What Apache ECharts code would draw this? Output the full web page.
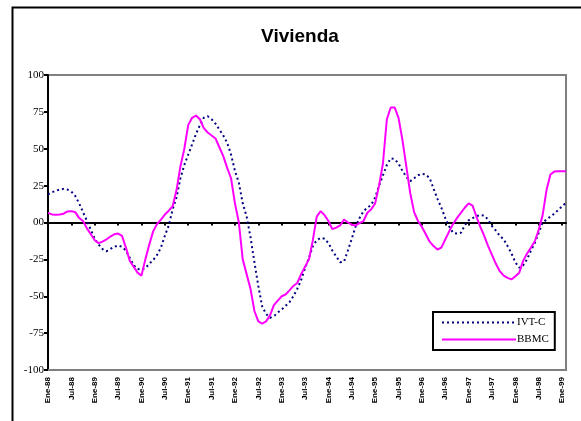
<!DOCTYPE html>
<html><head><meta charset="utf-8">
<script src="https://cdn.jsdelivr.net/npm/echarts@6/dist/echarts.min.js"></script>
<style>html,body{margin:0;padding:0;background:#fff}#c{width:581px;height:421px}</style>
</head><body><div id="c"></div>
<script>
// Monthly, from Ene-88 to Feb-99
const monthNames = ['Ene','Feb','Mar','Abr','May','Jun','Jul','Ago','Sep','Oct','Nov','Dic'];
const startYear = 1988;
const nMonths = 134;
const yTicks = [-100,-75,-50,-25,0,25,50,75,100];
const yTickLabels = ['-100','-75','-50','-25','00','25','50','75','100'];
const seriesNames = ['IVT-C','BBMC'];
const ivtC = [19,20.5,21.5,22.3,22.8,22.3,21,18,13,7,1,-5,-11,-15,-18,-19.5,-18,-16.5,-15.6,-16.5,
 -19,-24,-29,-31.5,-32,-31,-28,-25.5,-22,-17,-9,-2,8.8,17,30,39,46,53,60,66,
 71,72,70,67,63,59,54,46,35,27,13,4,-10,-27,-43,-57,-62,-64.6,-63.5,-61,
 -59,-56.5,-54,-50,-45,-39,-31,-24,-16,-12,-10.4,-11,-14,-19,-23,-27,-26.5,-19,-11,-2.5,
 3,7.7,10,12,17,25,32,39,43.5,43,40,35,31,28,30,32,33,32.5,30,23,
 16,10,3,-2.5,-7,-7.5,-7,-2,1.5,3,4.3,5,4.7,2,-2.5,-5.5,-9,-11.5,-16,-21,
 -27,-30.7,-29,-25,-19,-13.8,-7,0,2,4,6,8.5,11,13.4];
const bbmc = [6.5,5.5,5.2,5.4,6,7.5,7.7,7,3,1,-4,-8,-12,-14,-13,-11.5,-9.5,-8,-7.5,-9,
 -17,-26,-30,-34,-36,-25,-15,-6,-1,2,5.4,8,11,22,38,50,66,71,72.5,70,
 64,61,59,57,51,45,37,30,13,0,-25,-35,-45,-60,-67,-68.5,-67,-63,-56,-53,
 -50,-48.8,-46,-43,-41,-35,-30,-25,-12,4,7.7,5,1,-4.5,-3.5,-2,2,0,-1.5,-2,
 -0.5,1,6.6,9,13,25,40,70,78,78,71,56,38,20,7,1,-3,-8,-13,-16,
 -18.3,-17,-11.5,-6,-1,3,6.5,10,13,11.5,4,-3,-9,-16,-22,-28,-33,-36,-37.5,-38.6,
 -36.5,-34,-26,-21,-17,-12.7,-5,5,22,32.5,34.5,34.8,34.8,34.8];

const categories = [];
for (let i = 0; i < nMonths; i++) {
  const y = startYear + Math.floor(i / 12);
  categories.push(monthNames[i % 12] + '-' + String(y).slice(2));
}

const chart = echarts.init(document.getElementById('c'), null, {renderer:'canvas'});
chart.setOption({
  animation: false,
  backgroundColor: '#fff',
  title: {
    text: 'Vivienda', left: 295, top: 22, textAlign: 'center',
    textStyle: {fontFamily: 'Liberation Sans, Arial', fontSize: 19, fontWeight: 'bold', color: '#000'}
  },
  graphic: [{
    type: 'rect', left: 10, top: 5, z: -10,
    shape: {width: 620, height: 460},
    style: {fill: 'none', stroke: '#000', lineWidth: 2}
  }],
  legend: {
    orient: 'vertical', left: 433, top: 312,
    itemWidth: 74, itemHeight: 10, itemGap: 6,
    padding: [5, 6, 5, 8],
    backgroundColor: '#fff', borderColor: '#000', borderWidth: 2, borderRadius: 0,
    itemStyle: {opacity: 0},
    textStyle: {fontFamily: 'Liberation Serif', fontSize: 11, color: '#000', padding: [0,0,0,-4]},
    data: seriesNames
  },
  grid: {left: 48, right: 15, top: 75, bottom: 51, show: true, borderColor: '#808080', borderWidth: 2, containLabel: false},
  xAxis: [{
    type: 'category', data: categories, boundaryGap: false, position: 'bottom',
    axisLine: {onZero: false, lineStyle: {color: '#808080', width: 2}},
    axisTick: {show: false},
    axisLabel: {
      interval: function(i){ return i % 6 === 0; },
      rotate: 90, margin: 7,
      fontFamily: 'Liberation Sans, Arial', fontSize: 8, fontWeight: 'bold', color: '#000'
    },
    splitLine: {show: false}
  }, {
    type: 'category', data: categories, boundaryGap: false, position: 'bottom',
    axisLine: {onZero: true, lineStyle: {color: '#000', width: 2}},
    axisTick: {show: true, interval: function(i){ return i % 6 === 0 && i > 0; }, length: 3, lineStyle: {color: '#000', width: 2}},
    axisLabel: {show: false},
    splitLine: {show: false}
  }],
  yAxis: {
    type: 'value', min: -100, max: 100, interval: 25,
    axisLine: {show: true, lineStyle: {color: '#000', width: 2}},
    axisTick: {show: true, length: 4, lineStyle: {color: '#000', width: 2}},
    axisLabel: {
      margin: 4, fontFamily: 'Liberation Serif', fontSize: 11, color: '#000',
      formatter: function(v){ const k = yTicks.indexOf(v); return k >= 0 ? yTickLabels[k] : ''; }
    },
    splitLine: {show: false}
  },
  series: [{
    name: seriesNames[0], type: 'line', data: ivtC, xAxisIndex: 0,
    symbol: 'none', smooth: false,
    lineStyle: {color: '#000080', width: 2, type: [2, 3]},
    itemStyle: {color: '#000080'}, z: 3
  }, {
    name: seriesNames[1], type: 'line', data: bbmc, xAxisIndex: 0,
    symbol: 'none', smooth: false,
    lineStyle: {color: '#ff00ff', width: 2},
    itemStyle: {color: '#ff00ff'}, z: 4
  }]
});
</script></body></html>
